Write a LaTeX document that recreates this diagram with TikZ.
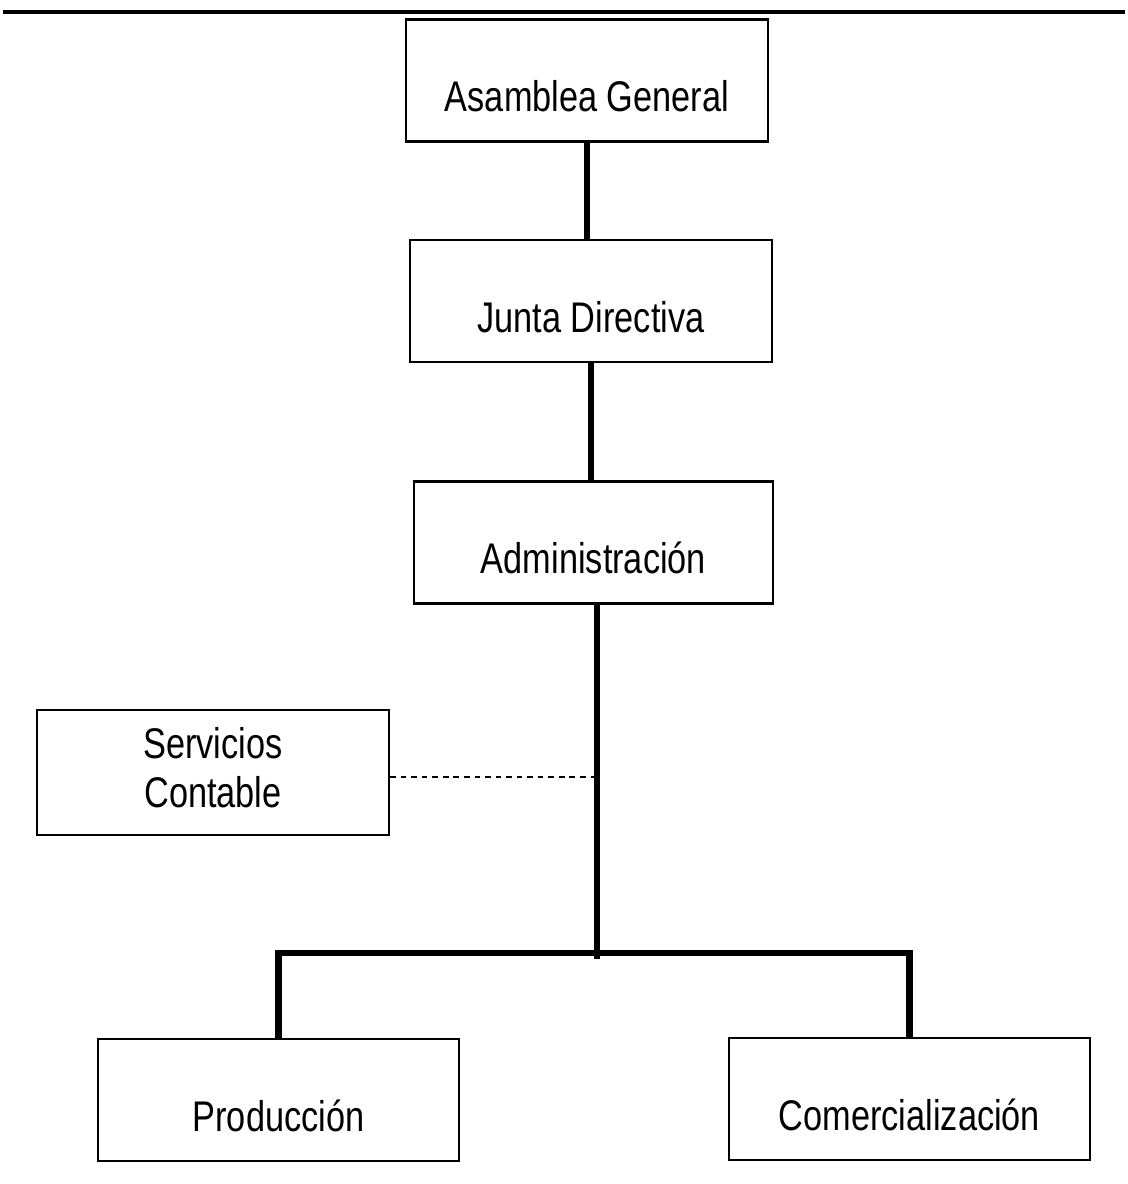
\documentclass[tikz,border=0pt]{standalone}
\usepackage{fontspec}
\setmainfont[FakeStretch=0.8]{Liberation Sans}
\usetikzlibrary{calc}
\tikzset{
  unit/.style= {draw, line width=1.6pt, minimum width=9.03cm, inner xsep=0, inner ysep=0,
                text height=2.3cm, text depth=0.75cm, font=\fontsize{30.5}{33}\selectfont},
  sunit/.style= {draw, line width=1.6pt, minimum width=8.8cm, minimum height=3.12cm,
                 align=center, font=\fontsize{30.5}{35.4}\selectfont},
  link/.style= {line width=4pt},
  bus/.style= {line width=4.8pt},
}

\begin{document}
\begin{tikzpicture}[x=0.025cm, y=-0.025cm]
  \useasboundingbox (0,0) rectangle (1128,1184);
  \draw [line width=2.4pt] (3,12) -- (1125,12);

  \node [unit] (asamblea) at (587,80.5) {Asamblea General} ;
  \node [unit] (junta) at (591,301) {Junta Directiva} ;
  \node [unit, minimum width=8.98cm] (admin) at (593.5,542.5) {Administración} ;
  \node [sunit] (serv) at (213,772.5) {Servicios\\Contable\rule[-0.25cm]{0pt}{0pt}} ;
  \node [unit] (prod) at (278.5,1100) {Producción} ;
  \node [unit] (comer) at (909.5,1099) {Comercialización} ;
  \coordinate (bus) at (597,953) ;

  \draw [link] (asamblea.south) -- (asamblea.south |- junta.north) ;
  \draw [link] (junta.south) -- (junta.south |- admin.north) ;
  \draw [bus] (admin.south -| bus) -- ([yshift=-4pt]bus) ;
  \draw [bus] (prod.north) |- (bus) -| (comer.north) ;
  \draw [line width=1.6pt, dash pattern=on 4pt off 3.5pt] (serv.east) ++(0,4.5) -- ($(serv.east -| bus)+(0,4.5)$) ;
\end{tikzpicture}
\end{document}
